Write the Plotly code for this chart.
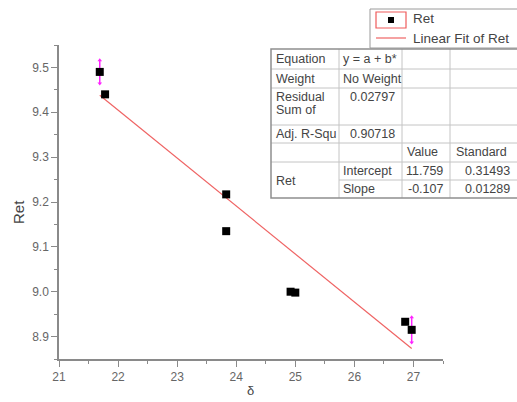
import plotly.graph_objects as go

# Measured data
delta = [21.69, 21.78, 23.83, 23.83, 24.92, 25.00, 26.86, 26.97]
ret = [9.490, 9.440, 9.217, 9.135, 9.000, 8.998, 8.933, 8.915]
ret_err = [0.026, 0, 0, 0, 0, 0, 0, 0.028]

# Linear fit results
fit_intercept = 11.759
fit_slope = -0.107
fit_intercept_se = 0.31493
fit_slope_se = 0.01289
residual_ss = 0.02797
adj_r2 = 0.90718

x_ticks = [21, 22, 23, 24, 25, 26, 27]
y_ticks = [8.9, 9.0, 9.1, 9.2, 9.3, 9.4, 9.5]

W, H = 517, 402
FONT = "Liberation Sans, Arial, sans-serif"
TXT = "#444444"
AXC = "#8a8a8a"


def px(x):
    return x / W


def py(y):
    return 1 - y / H


fig = go.Figure()

# Fitted line across the data span
x_fit = [min(delta), max(delta)]
y_fit = [fit_intercept + fit_slope * v for v in x_fit]
fig.add_trace(go.Scatter(
    x=x_fit, y=y_fit, mode="lines", name="Linear Fit of Ret",
    line=dict(color="#ef6464", width=1.2), showlegend=False,
))

# Data points with error bars
fig.add_trace(go.Scatter(
    x=delta, y=ret, mode="markers", name="Ret",
    marker=dict(symbol="square", size=8, color="black"),
    error_y=dict(type="data", array=ret_err, visible=True,
                 color="#ff22ff", thickness=1.5, width=0),
    showlegend=False,
))

# Arrow heads on the error bars
ex, ey, es = [], [], []
for xv, yv, ev in zip(delta, ret, ret_err):
    if ev > 0:
        ex += [xv, xv]
        ey += [yv + ev, yv - ev]
        es += ["triangle-up", "triangle-down"]
fig.add_trace(go.Scatter(
    x=ex, y=ey, mode="markers", showlegend=False, hoverinfo="skip",
    marker=dict(symbol=es, size=4, color="#ff22ff"),
))

axis_common = dict(
    showline=True, linecolor=AXC, linewidth=1.5, showgrid=False,
    zeroline=False, ticks="outside", ticklen=6, tickwidth=1,
    tickcolor=AXC, tickfont=dict(family=FONT, size=12, color="#666666"),
    automargin=False,
)

fig.update_xaxes(
    domain=[px(59), px(443)], range=[21, 27.5],
    tickvals=x_ticks, ticktext=[str(v) for v in x_ticks],
    minor=dict(dtick=0.5, ticklen=3, tickcolor=AXC, ticks="outside"),
    **axis_common,
)
fig.update_yaxes(
    domain=[py(359), py(45)], range=[8.85, 9.55],
    tickvals=y_ticks, ticktext=[f"{v:.1f}" for v in y_ticks],
    minor=dict(dtick=0.05, ticklen=3, tickcolor=AXC, ticks="outside"),
    **axis_common,
)

shapes = []
annotations = []


def text(x, y, s, anchor="left", size=12.5, color=TXT, angle=0):
    annotations.append(dict(
        x=px(x), y=py(y), xref="paper", yref="paper", text=s,
        showarrow=False, xanchor=anchor, yanchor="middle", textangle=angle,
        font=dict(family=FONT, size=size, color=color),
    ))


def hline(x0, x1, y, color="#c4c4c4", w=1):
    shapes.append(dict(type="line", xref="paper", yref="paper",
                       x0=px(x0), x1=px(x1), y0=py(y), y1=py(y),
                       line=dict(color=color, width=w)))


def vline(x, y0, y1, color="#c4c4c4", w=1):
    shapes.append(dict(type="line", xref="paper", yref="paper",
                       x0=px(x), x1=px(x), y0=py(y0), y1=py(y1),
                       line=dict(color=color, width=w)))


# Axis titles
text(18, 212, "Ret", anchor="center", size=15, angle=-90)
text(250, 390, "δ", anchor="center", size=13)

# Legend box
shapes.append(dict(type="rect", xref="paper", yref="paper",
                   x0=px(370), x1=px(520), y0=py(48), y1=py(9),
                   line=dict(color="#9a9a9a", width=1), fillcolor="white"))
shapes.append(dict(type="rect", xref="paper", yref="paper",
                   x0=px(376), x1=px(406), y0=py(28), y1=py(12),
                   line=dict(color="#ef5b5b", width=1.2)))
shapes.append(dict(type="rect", xref="paper", yref="paper",
                   x0=px(388), x1=px(394), y0=py(23), y1=py(17),
                   line=dict(width=0), fillcolor="black"))
hline(376, 406, 38, color="#ef6464", w=1.2)
text(411, 19, "Ret", size=13.5)
text(411, 38, "Linear Fit of Ret", size=13.5)

# Fit results table
c0, c1, c2, c3, c4 = 271, 339, 402, 450, 520
rows = [49, 69, 88, 125, 143, 162, 180, 198]
shapes.append(dict(type="rect", xref="paper", yref="paper",
                   x0=px(c0), x1=px(c4), y0=py(rows[-1]), y1=py(rows[0]),
                   line=dict(width=0), fillcolor="white"))
for r in rows[1:6]:
    hline(c0, c4, r)
hline(c1, c4, rows[6])
for c in (c1, c2, c3):
    vline(c, rows[0], rows[-1])
shapes.append(dict(type="rect", xref="paper", yref="paper",
                   x0=px(c0), x1=px(c4), y0=py(rows[-1]), y1=py(rows[0]),
                   line=dict(color="#8e8e8e", width=1.5)))

pad = 3
text(c0 + pad, 59, "Equation")
text(c1 + 2, 59, "y = a + b*")
text(c0 + pad, 79, "Weight")
text(c1 + 2, 79, "No Weight")
text(c0 + pad, 97, "Residual")
text(c0 + pad, 110, "Sum of")
text(c2 - 5, 97, f"{residual_ss:.5f}", anchor="right")
text(c0 + pad, 134, "Adj. R-Squ")
text(c2 - 5, 134, f"{adj_r2:.5f}", anchor="right")
text(c2 + 3, 152, "Value")
text(c3 + 4, 152, "Standard")
text(c0 + pad, 181, "Ret")
text(c1 + 2, 171, "Intercept")
text(c1 + 2, 189, "Slope")
text(c3 - 5, 171, f"{fit_intercept:.3f}", anchor="right")
text(c3 - 5, 189, f"{fit_slope:.3f}", anchor="right")
text(c4 - 8, 171, f"{fit_intercept_se:.5f}", anchor="right")
text(c4 - 8, 189, f"{fit_slope_se:.5f}", anchor="right")

fig.update_layout(
    width=W, height=H, margin=dict(l=0, r=0, t=0, b=0),
    paper_bgcolor="white", plot_bgcolor="white",
    shapes=shapes, annotations=annotations, showlegend=False,
)

fig.write_html("out.html")
